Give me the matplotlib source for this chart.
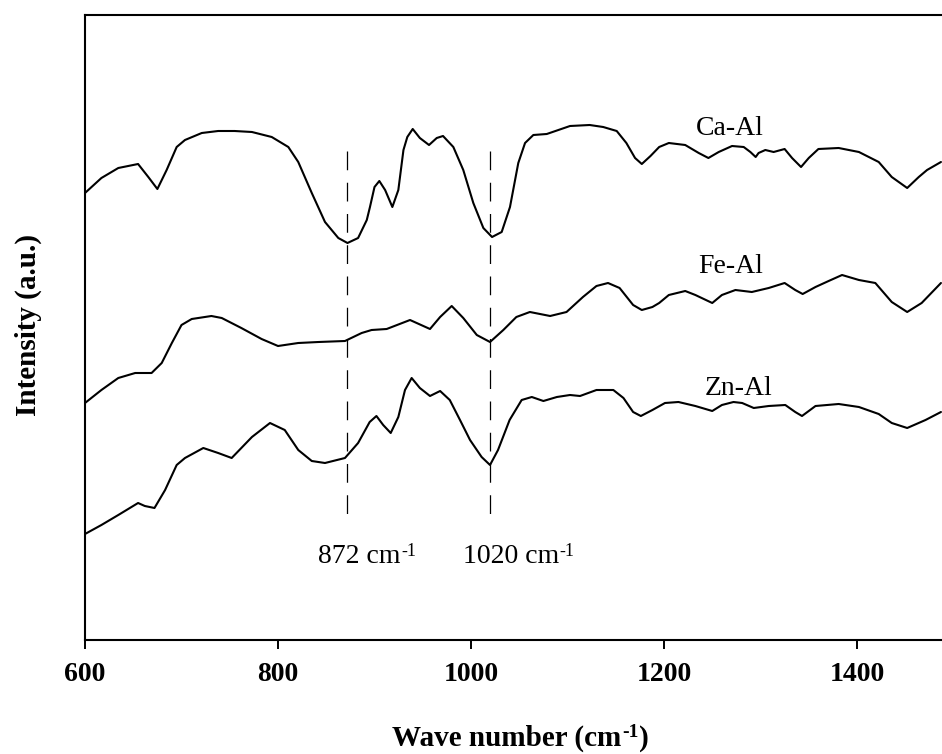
import matplotlib
matplotlib.use("Agg")
import matplotlib.pyplot as plt

plt.rcParams['font.family'] = ['Liberation Serif', 'DejaVu Serif']
plt.rcParams['lines.scale_dashes'] = False

# ---- data (wavenumber, intensity a.u.) ----
ca_x = [600, 617, 634.5, 655, 665.6, 675, 684.6, 695, 703.6, 721, 738, 755, 773, 793.5, 810.7, 821,
        835, 848.7, 862.5, 872, 883, 892, 895.3, 900, 905, 911, 918.5, 924.7, 930, 934, 939.6, 947,
        956.5, 964.5, 971, 981.7, 992, 1002.4, 1012.8, 1021.8, 1031.8, 1040.4, 1049, 1056, 1064.6,
        1078.5, 1102.6, 1123, 1137, 1151, 1161, 1170, 1177, 1186, 1195, 1205, 1222, 1236, 1246,
        1256.7, 1270.5, 1282.6, 1289.5, 1295, 1298, 1305, 1313.6, 1325, 1332.7, 1342, 1350, 1360,
        1381, 1402, 1422.5, 1436, 1452, 1464, 1472.6, 1487]
ca_y = [447, 462, 472, 476, 463, 451, 470, 493, 500, 507, 509, 509, 508, 503, 493, 478,
        447, 418, 402, 397, 402, 420, 433, 453, 459, 450, 433, 450, 490, 503, 511, 502,
        495, 502, 504, 493, 470, 437, 412, 403, 408, 433, 477, 497, 505,
        506, 514, 515, 513, 509, 497, 482, 476, 484, 493, 497, 495, 487, 482,
        488, 494, 493, 488, 483, 487, 490, 488, 491, 482, 473, 482, 491,
        492, 488, 478, 463, 452, 463, 470, 478]

fe_x = [600, 617, 634.5, 652, 669, 679.5, 690, 700, 710.6, 731, 741.7, 762, 783, 800, 821, 842,
        869.4, 886.7, 897, 912.6, 936.8, 957.5, 968, 980, 992, 1006, 1019.7, 1033.5, 1047, 1061,
        1082, 1099, 1116, 1130, 1142, 1154, 1168, 1177, 1188, 1195, 1205, 1222, 1232.5, 1250,
        1260, 1274, 1291, 1308.5, 1325, 1336, 1343.7, 1357, 1370.6, 1384.5, 1402, 1419, 1436,
        1452, 1467, 1487]
fe_y = [237, 250, 262, 267, 267, 277, 297, 315, 321, 324, 322, 312, 301, 294, 297, 298,
        299, 307, 310, 311, 320, 311, 323, 334, 322, 305, 298, 310, 323, 328,
        324, 328, 343, 354, 357, 352, 335, 330, 333, 337, 345, 349, 345, 337,
        345, 350, 348, 352, 357, 350, 346, 353, 359, 365, 360, 357, 338,
        328, 337, 357]

zn_x = [600, 617, 634.5, 655, 662, 672, 683, 695, 703.6, 722.6, 738, 752, 773, 791.7, 807, 821,
        835, 848.7, 869.4, 883, 895, 902, 909, 916.8, 924.7, 931.6, 938.5, 947, 957.5, 968, 978,
        988.6, 999, 1011, 1019.7, 1028, 1040, 1052.5, 1063, 1075, 1089, 1102.6, 1113, 1130,
        1147.5, 1158, 1168, 1176, 1188, 1201, 1215, 1232.5, 1250, 1260, 1272, 1281, 1293,
        1308.5, 1325.7, 1336, 1343, 1357, 1381, 1402, 1422.5, 1436, 1452, 1471, 1487]
zn_y = [106, 115, 125, 137, 134, 132, 150, 175, 182, 192, 187, 182, 203, 217, 210, 190,
        179, 177, 182, 197, 218, 224, 215, 207, 223, 250, 262, 252, 244, 249, 240,
        220, 200, 183, 175, 190, 220, 240, 243, 239, 243, 245, 244, 250,
        250, 242, 228, 224, 230, 237, 238, 234, 229, 235, 238, 237, 232,
        234, 235, 228, 224, 234, 236, 233, 226, 217, 212, 220, 228]

series_names = ['Ca-Al', 'Fe-Al', 'Zn-Al']
label_x = [1268, 1269, 1277]
label_y = [505, 367, 245]

peak_x = [872, 1020]
peak_main = ['872 cm', '1020 cm']
peak_sup = '-1'
peak_text_x = [841.5, 991.4]
peak_line_range = (115, 489)
peak_text_y = 77

xticks = [600, 800, 1000, 1200, 1400]

fig = plt.figure(figsize=(9.42, 7.54), dpi=100)
ax = fig.add_axes([85 / 942, 114 / 754, 868.5 / 942, 625 / 754])

for xs, ys in [(ca_x, ca_y), (fe_x, fe_y), (zn_x, zn_y)]:
    ax.plot(xs, ys, color='black', lw=1.5, solid_joinstyle='round', solid_capstyle='round')

for px in peak_x:
    ax.plot([px, px], [peak_line_range[1], peak_line_range[0]], color='black', lw=0.9,
            dashes=(13.5, 9))

for name, lx, ly in zip(series_names, label_x, label_y):
    ax.text(lx, ly, name, ha='center', va='baseline', fontsize=20)

for tx, lab in zip(peak_text_x, peak_main):
    t = ax.text(tx, peak_text_y, lab, ha='left', va='baseline', fontsize=20)
    ax.annotate(peak_sup, xy=(1, 1), xycoords=t, xytext=(0.5, 1), textcoords='offset points',
                ha='left', va='top', fontsize=13, annotation_clip=False)

ax.set_xlim(600, 1500)
ax.set_ylim(0, 625)
ax.set_xticks(xticks)
ax.set_xticklabels([str(t) for t in xticks], fontweight='bold', fontsize=20)
ax.set_yticks([])
ax.tick_params(axis='x', direction='out', length=6.5, width=1.4, pad=9)
ax.spines['right'].set_visible(False)
for s in ['left', 'bottom', 'top']:
    ax.spines[s].set_linewidth(1.5)

fig.text(28 / 942, 1 - 325 / 754, 'Intensity (a.u.)', rotation=90, ha='center', va='center',
         fontsize=21, fontweight='bold')

xl = fig.text(392 / 942, 1 - 746 / 754, 'Wave number (cm', ha='left', va='baseline',
              fontsize=21, fontweight='bold')
xs_ = ax.annotate('-1', xy=(1, 1), xycoords=xl, xytext=(0.5, 1), textcoords='offset points',
                  ha='left', va='top', fontsize=14, fontweight='bold', annotation_clip=False)
ax.annotate(')', xy=(1, 0), xycoords=(xs_, xl), xytext=(0.5, 0), textcoords='offset points',
            ha='left', va='bottom', fontsize=21, fontweight='bold', annotation_clip=False)

fig.savefig('out.png', dpi=100)
